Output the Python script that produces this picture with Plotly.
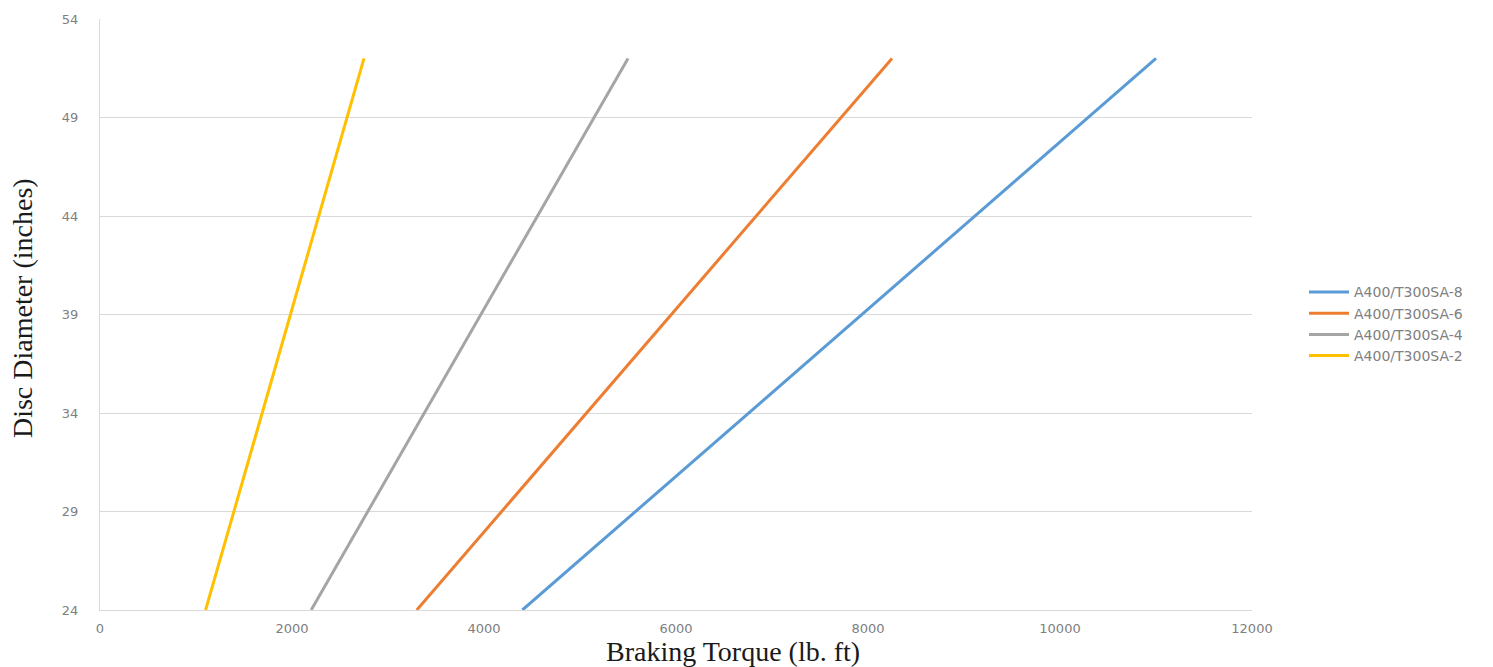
import plotly.graph_objects as go

diameters = [24, 52]
series_names = ["A400/T300SA-8", "A400/T300SA-6", "A400/T300SA-4", "A400/T300SA-2"]
torque_8 = [4400, 11000]
torque_6 = [3300, 8250]
torque_4 = [2200, 5500]
torque_2 = [1100, 2750]
colors = ["#5B9BD5", "#ED7D31", "#A5A5A5", "#FFC000"]
x_ticks = [0, 2000, 4000, 6000, 8000, 10000, 12000]
y_ticks = [24, 29, 34, 39, 44, 49, 54]

fig = go.Figure()
for name, xs, c in zip(series_names, [torque_8, torque_6, torque_4, torque_2], colors):
    fig.add_trace(go.Scatter(x=xs, y=diameters, mode="lines", name=name,
                             line=dict(color=c, width=3)))

W, H = 1493, 667
L, R, T, B = 100, 241, 13, 57
plot_w = W - L - R
plot_h = H - T - B

tickfont = dict(family="DejaVu Sans, sans-serif", size=13, color="#808080")
titlefont = dict(family="Liberation Serif, serif", size=28, color="#1a1a1a")
fig.update_layout(
    width=W, height=H,
    margin=dict(l=L, r=R, t=T, b=B),
    paper_bgcolor="white", plot_bgcolor="white",
    showlegend=True,
    legend=dict(x=(1304 - L) / plot_w, y=(H - 321 - B) / plot_h, xanchor="left", yanchor="middle",
                font=dict(family="DejaVu Sans, sans-serif", size=14, color="#808080"),
                tracegroupgap=7, itemwidth=40),
    xaxis=dict(range=[0, 12000], tickvals=x_ticks, ticktext=[str(v) for v in x_ticks],
               showgrid=False, zeroline=False, showline=True, linecolor="#d9d9d9",
               tickfont=tickfont, ticks="", ticklabelstandoff=6),
    yaxis=dict(range=[24, 54], tickvals=y_ticks, ticktext=[str(v) for v in y_ticks],
               showgrid=True, gridcolor="#d9d9d9", zeroline=False, showline=True,
               linecolor="#d9d9d9", tickfont=tickfont, ticks="", ticklabelstandoff=18),
    annotations=[
        dict(text="Braking Torque (lb. ft)", x=(733 - L) / plot_w, y=-(652 - (H - B)) / plot_h,
             xref="paper", yref="paper", showarrow=False, font=titlefont,
             xanchor="center", yanchor="middle"),
        dict(text="Disc Diameter (inches)", x=-(L - 22) / plot_w, y=(H - B - 305) / plot_h,
             xref="paper", yref="paper", showarrow=False, textangle=-90, font=titlefont,
             xanchor="center", yanchor="middle"),
    ],
)
fig.write_html("out.html", config={"displayModeBar": False},
               post_script="document.body.style.margin='0';document.body.style.overflow='hidden';")
